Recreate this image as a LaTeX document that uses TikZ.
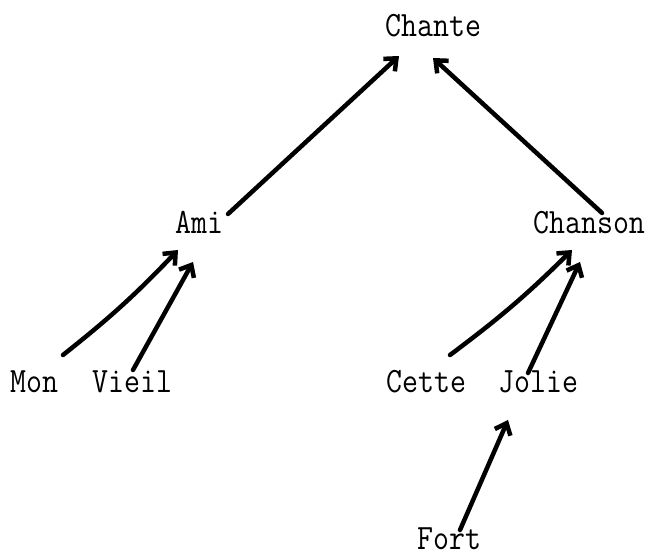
\documentclass[tikz,border=0pt]{standalone}
\usepackage{fontspec}
\usetikzlibrary{arrows.meta}
\begin{document}
\begin{tikzpicture}[x=1pt,y=1pt,
  word/.style={inner sep=0pt,anchor=base west,font=\ttfamily\fontsize{31}{33}\selectfont},
  link/.style={line width=4.5pt,line cap=round,-{Straight Barb[length=10pt,width=17pt,line width=4.5pt]}}]
\useasboundingbox (0,0) rectangle (648,556);
\node[word] (chante) at (385,519) {\scalebox{1}[1.15]{Chante}};
\node[word] (ami) at (175,322) {\scalebox{1}[1.15]{Ami}};
\node[word] (chanson) at (533,322) {\scalebox{1}[1.15]{Chanson}};
\node[word] (mon) at (10,163) {\scalebox{1}[1.15]{Mon}};
\node[word] (vieil) at (92,163) {\scalebox{1}[1.15]{Vieil}};
\node[word] (cette) at (386,163) {\scalebox{1}[1.15]{Cette}};
\node[word] (jolie) at (498,163) {\scalebox{1}[1.15]{Jolie}};
\node[word] (fort) at (417,6) {\scalebox{1}[1.15]{Fort}};
\draw[link] ([shift={(53,20)}]ami.base west) -- ([shift={(14,-19)}]chante.base west);
\draw[link] ([shift={(69,21)}]chanson.base west) -- ([shift={(48,-21)}]chante.base west);
\draw[link] ([shift={(53,38)}]mon.base west) to[bend right=4] ([shift={(3,-16)}]ami.base west);
\draw[link] ([shift={(41,23)}]vieil.base west) -- ([shift={(18,-28)}]ami.base west);
\draw[link] ([shift={(64,38)}]cette.base west) to[bend right=4] ([shift={(39,-16)}]chanson.base west);
\draw[link] ([shift={(30,20)}]jolie.base west) -- ([shift={(47,-28)}]chanson.base west);
\draw[link] ([shift={(43,20)}]fort.base west) -- ([shift={(10,-27)}]jolie.base west);
\end{tikzpicture}
\end{document}
